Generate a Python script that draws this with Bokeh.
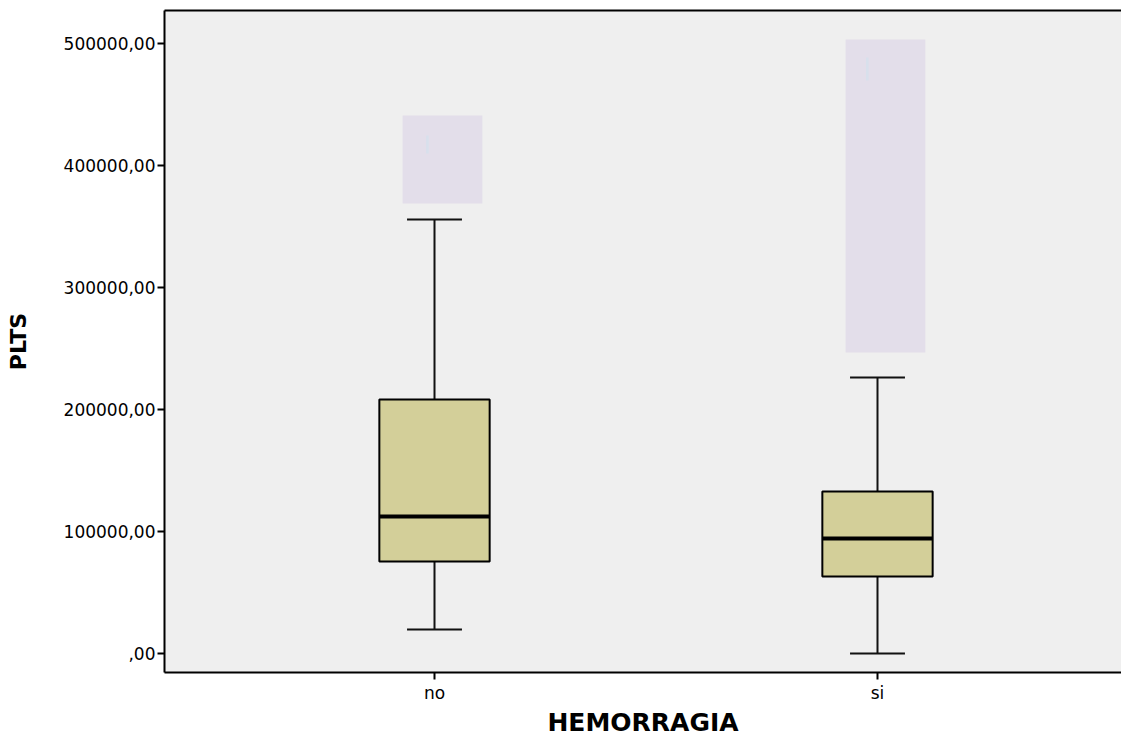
from bokeh.plotting import figure
from bokeh.models import Range1d, FixedTicker, LinearAxis, ColumnDataSource
from bokeh.embed import file_html
from bokeh.resources import INLINE

# ---- data ----
categories = ["no", "si"]
cat_pos = [0, 1]
q1 = [75400, 63100]
median = [112300, 94300]
q3 = [208200, 132800]
whisk_low = [19700, 0]
whisk_high = [355700, 226200]
# faint outlier-label regions
label_low = [368900, 246700]
label_high = [441000, 503300]
mark_low = [409800, 469700]
mark_high = [424600, 488500]
y_ticks = [0, 100000, 200000, 300000, 400000, 500000]
y_tick_labels = [",00", "100000,00", "200000,00", "300000,00", "400000,00", "500000,00"]
x_title = "HEMORRAGIA"
y_title = "PLTS"

BOX_W = 0.249
CAP_W = 0.124
FONT = "DejaVu Sans"

src = ColumnDataSource(dict(
    x=cat_pos, q1=q1, med=median, q3=q3, lo=whisk_low, hi=whisk_high,
    lab_x=[c + 0.018 for c in cat_pos], lab_lo=label_low, lab_hi=label_high,
    mk_x=[cat_pos[0] - 0.016, cat_pos[1] - 0.023], mk_lo=mark_low, mk_hi=mark_high,
))

p = figure(width=1121, height=739, output_backend="svg", toolbar_location=None,
           x_range=Range1d(-0.6095, 1.5508), y_range=Range1d(-15574, 527049),
           min_border_left=164, min_border_right=0, min_border_top=10, min_border_bottom=0)

p.background_fill_color = "#efefef"
p.border_fill_color = "white"
p.outline_line_color = None
p.grid.visible = False

# label regions
p.vbar(x="lab_x", bottom="lab_lo", top="lab_hi", width=0.18, source=src,
       fill_color="#e3deea", line_color=None)
p.vbar(x="mk_x", bottom="mk_lo", top="mk_hi", width=0.006, source=src,
       fill_color="#d8e0ec", line_color=None)

# whiskers
p.segment(x0="x", x1="x", y0="q3", y1="hi", source=src, line_color="#111111", line_width=2)
p.segment(x0="x", x1="x", y0="lo", y1="q1", source=src, line_color="#111111", line_width=2)
p.segment(x0=[c - CAP_W / 2 for c in cat_pos], x1=[c + CAP_W / 2 for c in cat_pos],
          y0=whisk_high, y1=whisk_high, line_color="#111111", line_width=2)
p.segment(x0=[c - CAP_W / 2 for c in cat_pos], x1=[c + CAP_W / 2 for c in cat_pos],
          y0=whisk_low, y1=whisk_low, line_color="#111111", line_width=2)

# boxes
p.vbar(x="x", bottom="q1", top="q3", width=BOX_W, source=src,
       fill_color="#d3cf99", line_color="black", line_width=2)
p.segment(x0=[c - BOX_W / 2 for c in cat_pos], x1=[c + BOX_W / 2 for c in cat_pos],
          y0=median, y1=median, line_color="black", line_width=4)

# axes
p.xaxis.ticker = FixedTicker(ticks=cat_pos)
p.xaxis.major_label_overrides = {c: n for c, n in zip(cat_pos, categories)}
p.yaxis.ticker = FixedTicker(ticks=y_ticks)
p.yaxis.major_label_overrides = {t: l for t, l in zip(y_ticks, y_tick_labels)}

for ax in (p.xaxis[0], p.yaxis[0]):
    ax.minor_tick_line_color = None
    ax.major_tick_out = 7
    ax.major_tick_in = 0
    ax.major_tick_line_color = "black"
    ax.major_tick_line_width = 2
    ax.axis_line_color = "black"
    ax.axis_line_width = 2
    ax.major_label_text_font = FONT
    ax.major_label_text_font_size = "17px"
    ax.major_label_text_color = "black"
    ax.axis_label_text_font = FONT
    ax.axis_label_text_font_style = "bold"
    ax.axis_label_text_color = "black"

p.yaxis.axis_label = y_title
p.yaxis.axis_label_text_font_size = "22px"
p.yaxis.major_label_standoff = 2
p.yaxis.axis_label_standoff = 30
p.xaxis.axis_label = x_title
p.xaxis.axis_label_text_font_size = "25px"
p.xaxis.major_label_standoff = 3
p.xaxis.axis_label_standoff = 2

top_ax = LinearAxis(ticker=FixedTicker(ticks=[]), major_label_text_font_size="0px",
                    axis_line_color="black", axis_line_width=2,
                    major_tick_line_color=None, minor_tick_line_color=None)
p.add_layout(top_ax, "above")

open("out.html", "w").write(file_html(p, INLINE))
